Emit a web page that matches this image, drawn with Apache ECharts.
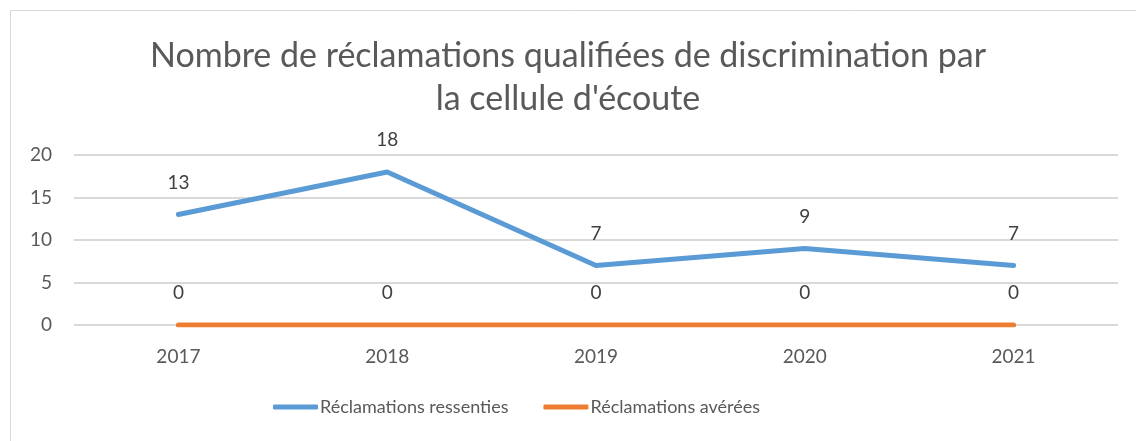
<!DOCTYPE html>
<html>
<head>
<meta charset="utf-8">
<script src="https://cdn.jsdelivr.net/npm/echarts@6/dist/echarts.min.js"></script>
<style>
  html, body { margin: 0; padding: 0; background: #fff; }
  #chart { width: 1136px; height: 441px; }
</style>
</head>
<body>
<div id="chart"></div>
<script>
const years = ['2017', '2018', '2019', '2020', '2021']
const ressenties = [13, 18, 7, 9, 7]
const averees = [0, 0, 0, 0, 0]
const yTicks = [0, 5, 10, 15, 20]

const font = 'Lato, "Open Sans", sans-serif'
const chart = echarts.init(document.getElementById('chart'))

const lineSerie = (name, data, color) => ({
  name,
  type: 'line',
  data,
  symbol: 'circle',
  symbolSize: 1,
  itemStyle: { color },
  lineStyle: { color, width: 5, cap: 'round', join: 'round' },
  label: {
    show: true,
    position: 'top',
    distance: 22,
    fontSize: 19,
    fontFamily: font,
    color: '#404040'
  },
  emphasis: { disabled: true },
  animation: false
})

chart.setOption({
  backgroundColor: '#fff',
  graphic: [{
    type: 'rect',
    shape: { x: 10.5, y: 10.5, width: 1300, height: 600 },
    style: { fill: 'none', stroke: '#D9D9D9', lineWidth: 1 },
    silent: true
  }],
  title: {
    text: 'Nombre de réclamations qualifiées de discrimination par\nla cellule d\'écoute',
    left: 'center',
    top: 30,
    padding: [5, 5, 5, 19],
    textStyle: {
      fontFamily: font,
      fontSize: 34,
      fontWeight: 'normal',
      lineHeight: 43,
      color: '#595959'
    }
  },
  legend: {
    bottom: 20,
    left: 268,
    icon: 'roundRect',
    itemWidth: 45,
    itemHeight: 5,
    itemGap: 35,
    textStyle: { fontFamily: font, fontSize: 18, color: '#595959', padding: [0, 0, 0, -3] },
    data: ['Réclamations ressenties', 'Réclamations avérées']
  },
  grid: { left: 74, right: 18, top: 155, bottom: 116 },
  xAxis: {
    type: 'category',
    data: years,
    axisLine: { show: false },
    axisTick: { show: false },
    axisLabel: { fontFamily: font, fontSize: 19, color: '#595959', margin: 22 }
  },
  yAxis: {
    type: 'value',
    min: yTicks[0],
    max: yTicks[yTicks.length - 1],
    interval: 5,
    axisLine: { show: false },
    axisTick: { show: false },
    splitLine: { lineStyle: { color: '#D9D9D9', width: 2 } },
    axisLabel: { fontFamily: font, fontSize: 19, color: '#595959', margin: 22 }
  },
  series: [
    lineSerie('Réclamations ressenties', ressenties, '#5B9BD5'),
    lineSerie('Réclamations avérées', averees, '#ED7D31')
  ]
})
</script>
</body>
</html>
